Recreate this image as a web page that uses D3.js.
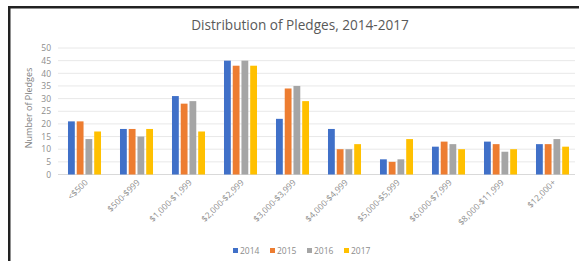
<!DOCTYPE html>
<html><head><meta charset="utf-8">
<script src="https://cdn.jsdelivr.net/npm/d3@7"></script>
<style>html,body{margin:0;padding:0;background:#fff;overflow:hidden}</style>
</head><body>
<svg id="c" width="579" height="261"></svg>
<script>
const categories = ["<$500","$500-$999","$1,000-$1,999","$2,000-$2,999","$3,000-$3,999","$4,000-$4,999","$5,000-$5,999","$6,000-$7,999","$8,000-$11,999","$12,000+"];
const years = ["2014","2015","2016","2017"];
const s2014 = [21,18,31,45,22,18,6,11,13,12];
const s2015 = [21,18,28,43,34,10,5,13,12,12];
const s2016 = [14,15,29,45,35,10,6,12,9,14];
const s2017 = [17,18,17,43,29,12,14,10,10,11];
const yTicks = [0,5,10,15,20,25,30,35,40,45,50];
const colors = ["#4070C8","#ED7D31","#A5A5A5","#FFC000"];
const seriesData = [s2014,s2015,s2016,s2017];

const svg = d3.select("#c");
const font = "'Open Sans', 'Liberation Sans', sans-serif";

// frame
svg.append("rect").attr("x",8).attr("y",6).attr("width",580).attr("height",2.5).attr("fill","#222");
svg.append("rect").attr("x",8).attr("y",6).attr("width",2.5).attr("height",260).attr("fill","#222");

const x0 = d3.scaleBand().domain(categories).range([58.5,578.5]).paddingInner(0.365).paddingOuter(0.1825);
const x1 = d3.scaleBand().domain(years).range([0,x0.bandwidth()]).paddingInner(0.22);
const y = d3.scaleLinear().domain([0,50]).range([174.5,48]);

// gridlines
svg.append("g").selectAll("line").data(yTicks.filter(d=>d>0)).join("line")
  .attr("x1",58).attr("x2",575).attr("y1",d=>y(d)).attr("y2",d=>y(d))
  .attr("stroke","#e8e8e8").attr("stroke-width",1);
svg.append("line").attr("x1",58).attr("x2",575).attr("y1",y(0)).attr("y2",y(0)).attr("stroke","#d9d9d9");

// y axis
const ya = svg.append("g").attr("transform","translate(51,0)")
  .call(d3.axisLeft(y).tickValues(yTicks).tickSize(0).tickPadding(0));
ya.select(".domain").remove();
ya.selectAll("text").attr("font-family",font).attr("font-size",8.5).attr("fill","#8c8c8c");

// bars
const groups = svg.append("g").selectAll("g").data(categories).join("g")
  .attr("transform",d=>`translate(${x0(d)},0)`);
groups.selectAll("rect").data((c,i)=>years.map((yr,j)=>({yr,v:seriesData[j][i],j}))).join("rect")
  .attr("x",d=>x1(d.yr)).attr("width",x1.bandwidth())
  .attr("y",d=>y(d.v)).attr("height",d=>y(0)-y(d.v))
  .attr("fill",d=>colors[d.j]);

// x labels
svg.append("g").selectAll("text").data(categories).join("text")
  .attr("transform",d=>`translate(${x0(d)+x0.bandwidth()/2+4},183) rotate(-45)`)
  .attr("text-anchor","end").attr("font-family",font).attr("font-size",8.5).attr("fill","#8c8c8c")
  .text(d=>d);

// title
svg.append("text").attr("x",300).attr("y",30).attr("text-anchor","middle")
  .attr("font-family",font).attr("font-size",13.6).attr("fill","#595959")
  .text("Distribution of Pledges, 2014-2017");

// y title
svg.append("text").attr("transform","translate(32,108) rotate(-90)").attr("text-anchor","middle")
  .attr("font-family",font).attr("font-size",9).attr("fill","#7f7f7f")
  .text("Number of Pledges");

// legend
const lx = [233,270,307,344];
const lg = svg.append("g").selectAll("g").data(years).join("g")
  .attr("transform",(d,i)=>`translate(${lx[i]},251)`);
lg.append("rect").attr("x",0).attr("y",-3).attr("width",5).attr("height",5).attr("fill",(d,i)=>colors[i]);
lg.append("text").attr("x",7).attr("y",3).attr("font-family",font).attr("font-size",8.5).attr("fill","#8c8c8c").text(d=>d);
</script>
</body></html>
